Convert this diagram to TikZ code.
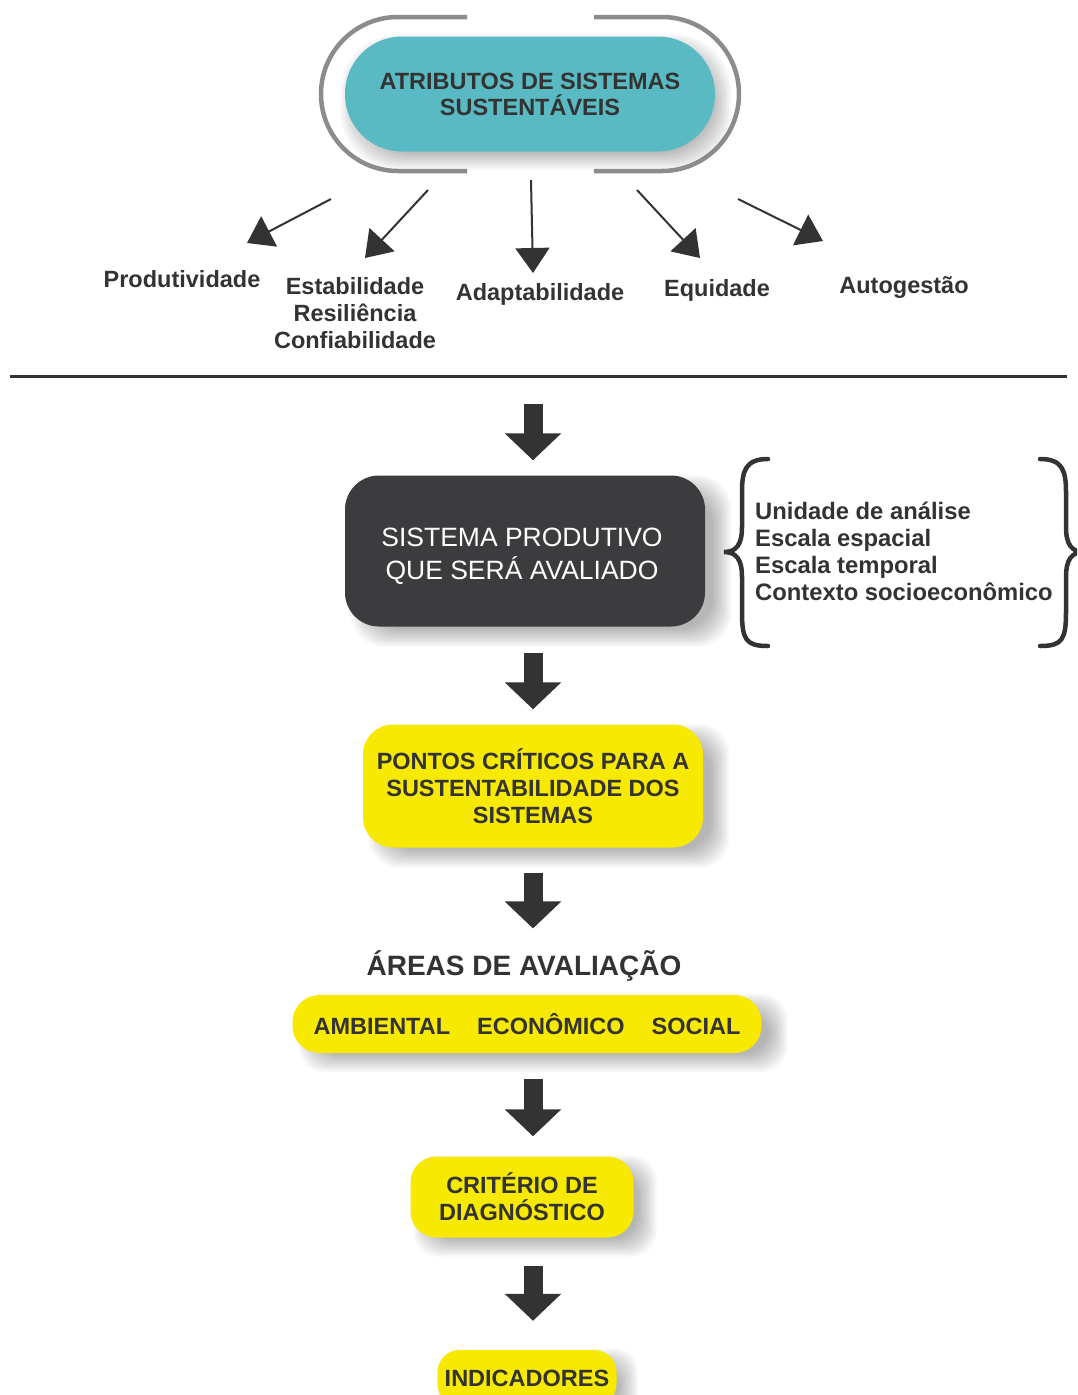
\documentclass[tikz,border=0pt]{standalone}
\usepackage{fontspec}
\setmainfont{Liberation Sans}
\usetikzlibrary{arrows.meta,calc,backgrounds}
\definecolor{txtdark}{HTML}{333333}
\definecolor{tealfill}{HTML}{5ABAC3}
\definecolor{darkfill}{HTML}{3C3C3E}
\definecolor{yel}{HTML}{F7E900}
\definecolor{outl}{HTML}{8C8C8C}
\newcommand\fLbl{\fontsize{23.5}{27}\selectfont\bfseries}
\newcommand\fDark{\fontsize{26.5}{33}\selectfont}
\newcommand\fTitle{\fontsize{28}{30}\selectfont\bfseries}
% soft shadow: node, corner radius, x offset, y offset
\newcommand\softshadow[4]{%
  \begin{scope}[on background layer]
  \foreach \d in {-8,-6,...,10} {
    \fill[black,opacity=0.03,rounded corners=#2]
      ($(#1.north west)+({#3-\d},{#4-\d})$) rectangle ($(#1.south east)+({#3+\d},{#4+\d})$);
  }
  \end{scope}}
\begin{document}
\begin{tikzpicture}[x=1pt,y=-1pt,
  yelbox/.style={fill=yel,rounded corners=30pt,text=txtdark,align=center,inner sep=0pt,font=\fLbl},
  lbl/.style={text=txtdark,align=center,font=\fLbl,inner sep=0pt},
  thinarrow/.style={draw=txtdark,line width=2pt,-{Triangle[length=25pt,width=34pt]}},
  blk/.style={draw=txtdark,line width=19pt,-{Triangle[length=27pt,width=55pt]}},
  brace/.style={draw=txtdark,line width=4.5pt,line cap=round},
  outline/.style={draw=outl,line width=4.5pt}
]
\useasboundingbox (0,0) rectangle (1077,1395);
\clip (0,0) rectangle (1077,1395);
\begin{scope}[on background layer]
\fill[white] (0,0) rectangle (1077,1395);
\end{scope}

% outer gray capsule outline with gaps
\draw[outline] (467,17) -- (398,17) arc(270:90:77) -- (467,171);
\draw[outline] (594,17) -- (662,17) arc(-90:90:77) -- (594,171);

% teal capsule
\node[fill=tealfill,rounded corners=57pt,minimum width=370pt,minimum height=115pt,inner sep=0pt,
  text=txtdark,align=center,font=\fontsize{23.5}{26}\selectfont\bfseries] (teal) at (530,94)
  {ATRIBUTOS DE SISTEMAS\\SUSTENTÁVEIS};
\softshadow{teal}{57pt}{6}{8}

% attribute labels
\node[lbl] (prod) at (182,279) {Produtividade};
\node[lbl] (estab) at (355,313) {Estabilidade\\Resiliência\\Confiabilidade};
\node[lbl] (adapt) at (540,294) {Adaptabilidade};
\node[lbl] (equi) at (717,290) {Equidade};
\node[lbl] (auto) at (904,288) {Autogestão};

% thin arrows
\coordinate (s1) at (331,199); \coordinate (e1) at (247,243);
\coordinate (s2) at (428,190); \coordinate (e2) at (365,258);
\coordinate (s3) at (531,180); \coordinate (e3) at (533,273);
\coordinate (s4) at (637,190); \coordinate (e4) at (700,258);
\coordinate (s5) at (738,199); \coordinate (e5) at (823,241);
\draw[thinarrow] (s1) -- (e1);
\draw[thinarrow] (s2) -- (e2);
\draw[thinarrow] (s3) -- (e3);
\draw[thinarrow] (s4) -- (e4);
\draw[thinarrow] (s5) -- (e5);

% separator
\coordinate (hl) at (10,376); \coordinate (hr) at (1067,376);
\draw[txtdark,line width=3pt] (hl) -- (hr);
\coordinate (ax) at (533,376);

% dark box
\node[fill=darkfill,rounded corners=34pt,minimum width=360pt,minimum height=151pt,inner sep=0pt] (dark) at (525,551) {};
\softshadow{dark}{34pt}{16}{10}
\node[text=white,align=center,font=\fDark,inner sep=0pt] (darkt) at (522,556)
  {SISTEMA PRODUTIVO\\QUE SERÁ AVALIADO};

% braces
\draw[brace] (768,459) .. controls (746,459) and (742,470) .. (742,492) -- (742,527)
  .. controls (742,545) and (736,552) .. (724,552)
  .. controls (736,552) and (742,559) .. (742,577) -- (742,612)
  .. controls (742,640) and (746,646) .. (768,646);
\draw[brace] (1040,459) .. controls (1062,459) and (1066,470) .. (1066,492) -- (1066,527)
  .. controls (1066,545) and (1072,552) .. (1084,552)
  .. controls (1072,552) and (1066,559) .. (1066,577) -- (1066,612)
  .. controls (1066,640) and (1062,646) .. (1040,646);
\node[text=txtdark,align=left,font=\fontsize{23.8}{27}\selectfont\bfseries,inner sep=0pt,anchor=west] (ctx) at (755,551)
  {Unidade de análise\\Escala espacial\\Escala temporal\\Contexto socioeconômico};

% yellow boxes
\node[yelbox,minimum width=340pt,minimum height=123pt] (pontos) at (533,786)
  {PONTOS CRÍTICOS PARA A\\SUSTENTABILIDADE DOS\\SISTEMAS};
\softshadow{pontos}{30pt}{16}{10}
\node[text=txtdark,font=\fTitle,inner sep=0pt] (areas) at (524,966) {ÁREAS DE AVALIAÇÃO};
\node[yelbox,rounded corners=27pt,minimum width=469pt,minimum height=58pt] (strip) at (527,1024)
  {AMBIENTAL\hspace{27pt}ECONÔMICO\hspace{27pt}SOCIAL};
\softshadow{strip}{27pt}{16}{9}
\node[yelbox,rounded corners=26pt,minimum width=223pt,minimum height=81pt] (crit) at (522,1197)
  {CRITÉRIO DE\\DIAGNÓSTICO};
\softshadow{crit}{26pt}{13}{9}
\node[yelbox,rounded corners=22pt,minimum width=179pt,minimum height=56pt] (indic) at (527,1378)
  {INDICADORES};
\softshadow{indic}{22pt}{11}{9}

% block arrows
\draw[blk,shorten <=28pt,shorten >=15pt] (ax) -- (dark.north -| ax);
\draw[blk,shorten <=26pt,shorten >=15pt] (dark.south -| ax) -- (pontos.north -| ax);
\draw[blk,shorten <=25pt,shorten >=22pt] (pontos.south -| ax) -- (areas.north -| ax);
\draw[blk,shorten <=26pt,shorten >=20pt] (strip.south -| ax) -- (crit.north -| ax);
\draw[blk,shorten <=28pt,shorten >=29pt] (crit.south -| ax) -- (indic.north -| ax);
\end{tikzpicture}
\end{document}
